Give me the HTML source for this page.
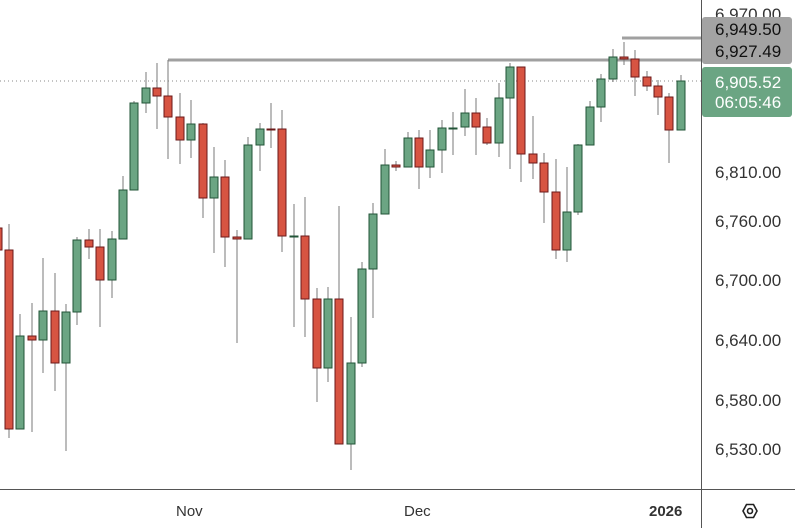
<!DOCTYPE html>
<html><head><meta charset="utf-8"><style>
html,body{margin:0;padding:0;background:#fff;width:795px;height:528px;overflow:hidden}
svg{display:block}
text{font-family:"Liberation Sans","DejaVu Sans",sans-serif}
.w{stroke:#7a7a7a;stroke-width:1}
.g{fill:#6ba583;stroke:#225437;stroke-width:1}
.r{fill:#d75442;stroke:#6b1919;stroke-width:1}
.ax{font-size:15px;fill:#333}
.pa{font-size:17px;fill:#333}
</style></head><body>
<svg width="795" height="528" viewBox="0 0 795 528" xmlns="http://www.w3.org/2000/svg">
<line x1="0" y1="81" x2="701" y2="81" stroke="#888" stroke-dasharray="1,3"/>
<line x1="168" y1="60" x2="701" y2="60" stroke="#a0a0a0" stroke-width="3"/>
<line x1="622" y1="38" x2="701" y2="38" stroke="#a0a0a0" stroke-width="3"/>
<rect class="r" x="-3" y="228" width="5" height="22"/>
<line class="w" x1="9" y1="224" x2="9" y2="438"/><rect class="r" x="5" y="250" width="8" height="179"/>
<line class="w" x1="20" y1="314" x2="20" y2="429"/><rect class="g" x="16" y="336" width="8" height="93"/>
<line class="w" x1="32" y1="303" x2="32" y2="432"/><rect class="r" x="28" y="336" width="8" height="4"/>
<line class="w" x1="43" y1="258" x2="43" y2="373"/><rect class="g" x="39" y="311" width="8" height="29"/>
<line class="w" x1="55" y1="273" x2="55" y2="391"/><rect class="r" x="51" y="311" width="8" height="52"/>
<line class="w" x1="66" y1="304" x2="66" y2="451"/><rect class="g" x="62" y="312" width="8" height="51"/>
<line class="w" x1="77" y1="237" x2="77" y2="325"/><rect class="g" x="73" y="240" width="8" height="72"/>
<line class="w" x1="89" y1="229" x2="89" y2="259"/><rect class="r" x="85" y="240" width="8" height="7"/>
<line class="w" x1="100" y1="229" x2="100" y2="327"/><rect class="r" x="96" y="247" width="8" height="33"/>
<line class="w" x1="112" y1="231" x2="112" y2="298"/><rect class="g" x="108" y="239" width="8" height="41"/>
<line class="w" x1="123" y1="176" x2="123" y2="239"/><rect class="g" x="119" y="190" width="8" height="49"/>
<line class="w" x1="134" y1="101" x2="134" y2="190"/><rect class="g" x="130" y="103" width="8" height="87"/>
<line class="w" x1="146" y1="72" x2="146" y2="113"/><rect class="g" x="142" y="88" width="8" height="15"/>
<line class="w" x1="157" y1="63" x2="157" y2="129"/><rect class="r" x="153" y="88" width="8" height="8"/>
<line class="w" x1="168" y1="60" x2="168" y2="159"/><rect class="r" x="164" y="96" width="8" height="21"/>
<line class="w" x1="180" y1="93" x2="180" y2="164"/><rect class="r" x="176" y="117" width="8" height="23"/>
<line class="w" x1="191" y1="100" x2="191" y2="158"/><rect class="g" x="187" y="124" width="8" height="16"/>
<line class="w" x1="203" y1="123" x2="203" y2="218"/><rect class="r" x="199" y="124" width="8" height="74"/>
<line class="w" x1="214" y1="147" x2="214" y2="253"/><rect class="g" x="210" y="177" width="8" height="21"/>
<line class="w" x1="225" y1="160" x2="225" y2="267"/><rect class="r" x="221" y="177" width="8" height="60"/>
<line class="w" x1="237" y1="230" x2="237" y2="343"/><rect class="r" x="233" y="237" width="8" height="2"/>
<line class="w" x1="248" y1="137" x2="248" y2="239"/><rect class="g" x="244" y="145" width="8" height="94"/>
<line class="w" x1="260" y1="123" x2="260" y2="171"/><rect class="g" x="256" y="129" width="8" height="16"/>
<line class="w" x1="271" y1="103" x2="271" y2="148"/><rect class="r" x="267" y="129" width="8" height="1"/>
<line class="w" x1="282" y1="110" x2="282" y2="252"/><rect class="r" x="278" y="129" width="8" height="107"/>
<line class="w" x1="294" y1="204" x2="294" y2="327"/><rect class="g" x="290" y="236" width="8" height="1"/>
<line class="w" x1="305" y1="197" x2="305" y2="337"/><rect class="r" x="301" y="236" width="8" height="63"/>
<line class="w" x1="317" y1="288" x2="317" y2="402"/><rect class="r" x="313" y="299" width="8" height="69"/>
<line class="w" x1="328" y1="287" x2="328" y2="382"/><rect class="g" x="324" y="299" width="8" height="69"/>
<line class="w" x1="339" y1="206" x2="339" y2="444"/><rect class="r" x="335" y="299" width="8" height="145"/>
<line class="w" x1="351" y1="317" x2="351" y2="470"/><rect class="g" x="347" y="363" width="8" height="81"/>
<line class="w" x1="362" y1="262" x2="362" y2="367"/><rect class="g" x="358" y="269" width="8" height="94"/>
<line class="w" x1="373" y1="203" x2="373" y2="318"/><rect class="g" x="369" y="214" width="8" height="55"/>
<line class="w" x1="385" y1="149" x2="385" y2="214"/><rect class="g" x="381" y="165" width="8" height="49"/>
<line class="w" x1="396" y1="161" x2="396" y2="171"/><rect class="r" x="392" y="165" width="8" height="2"/>
<line class="w" x1="408" y1="132" x2="408" y2="167"/><rect class="g" x="404" y="138" width="8" height="29"/>
<line class="w" x1="419" y1="130" x2="419" y2="189"/><rect class="r" x="415" y="138" width="8" height="29"/>
<line class="w" x1="430" y1="130" x2="430" y2="178"/><rect class="g" x="426" y="150" width="8" height="17"/>
<line class="w" x1="442" y1="120" x2="442" y2="173"/><rect class="g" x="438" y="128" width="8" height="22"/>
<line class="w" x1="453" y1="112" x2="453" y2="155"/><rect class="g" x="449" y="128" width="8" height="1"/>
<line class="w" x1="465" y1="89" x2="465" y2="136"/><rect class="g" x="461" y="113" width="8" height="14"/>
<line class="w" x1="476" y1="98" x2="476" y2="155"/><rect class="r" x="472" y="113" width="8" height="14"/>
<line class="w" x1="487" y1="118" x2="487" y2="145"/><rect class="r" x="483" y="127" width="8" height="16"/>
<line class="w" x1="499" y1="83" x2="499" y2="157"/><rect class="g" x="495" y="98" width="8" height="45"/>
<line class="w" x1="510" y1="63" x2="510" y2="169"/><rect class="g" x="506" y="67" width="8" height="31"/>
<line class="w" x1="521" y1="67" x2="521" y2="182"/><rect class="r" x="517" y="67" width="8" height="87"/>
<line class="w" x1="533" y1="116" x2="533" y2="179"/><rect class="r" x="529" y="154" width="8" height="9"/>
<line class="w" x1="544" y1="153" x2="544" y2="223"/><rect class="r" x="540" y="163" width="8" height="29"/>
<line class="w" x1="556" y1="159" x2="556" y2="259"/><rect class="r" x="552" y="192" width="8" height="58"/>
<line class="w" x1="567" y1="167" x2="567" y2="262"/><rect class="g" x="563" y="212" width="8" height="38"/>
<line class="w" x1="578" y1="144" x2="578" y2="215"/><rect class="g" x="574" y="145" width="8" height="67"/>
<line class="w" x1="590" y1="101" x2="590" y2="145"/><rect class="g" x="586" y="107" width="8" height="38"/>
<line class="w" x1="601" y1="74" x2="601" y2="122"/><rect class="g" x="597" y="79" width="8" height="28"/>
<line class="w" x1="613" y1="49" x2="613" y2="82"/><rect class="g" x="609" y="57" width="8" height="22"/>
<line class="w" x1="624" y1="42" x2="624" y2="65"/><rect class="r" x="620" y="57" width="8" height="2"/>
<line class="w" x1="635" y1="50" x2="635" y2="96"/><rect class="r" x="631" y="59" width="8" height="18"/>
<line class="w" x1="647" y1="71" x2="647" y2="91"/><rect class="r" x="643" y="77" width="8" height="9"/>
<line class="w" x1="658" y1="80" x2="658" y2="115"/><rect class="r" x="654" y="86" width="8" height="11"/>
<line class="w" x1="669" y1="93" x2="669" y2="163"/><rect class="r" x="665" y="97" width="8" height="33"/>
<line class="w" x1="681" y1="75" x2="681" y2="130"/><rect class="g" x="677" y="81" width="8" height="49"/>
<line x1="701.5" y1="0" x2="701.5" y2="528" stroke="#555"/>
<line x1="0" y1="489.5" x2="795" y2="489.5" stroke="#555"/>
<text class="pa" x="715" y="20">6,970.00</text>
<text class="pa" x="715" y="178">6,810.00</text>
<text class="pa" x="715" y="227">6,760.00</text>
<text class="pa" x="715" y="286">6,700.00</text>
<text class="pa" x="715" y="346">6,640.00</text>
<text class="pa" x="715" y="406">6,580.00</text>
<text class="pa" x="715" y="455">6,530.00</text>
<rect x="702" y="17" width="90" height="47" rx="3" fill="#a3a3a3"/>
<text x="715" y="35" font-size="17" fill="#111">6,949.50</text>
<text x="715" y="57" font-size="17" fill="#111">6,927.49</text>
<rect x="702" y="67" width="90" height="50" rx="3" fill="#6ba583"/>
<text x="715" y="88" font-size="17" fill="#fff">6,905.52</text>
<text x="715" y="108" font-size="17" fill="#fff">06:05:46</text>
<text class="ax" x="176" y="516" fill="#444">Nov</text>
<text class="ax" x="404" y="516" fill="#444">Dec</text>
<text class="ax" x="649" y="516" font-weight="bold" fill="#555">2026</text>
<polygon points="743,511 746.5,504.5 753.5,504.5 757,511 753.5,517.5 746.5,517.5" fill="none" stroke="#222" stroke-width="1.6"/>
<circle cx="750" cy="511" r="2.5" fill="none" stroke="#222" stroke-width="1.6"/>
</svg>
</body></html>
